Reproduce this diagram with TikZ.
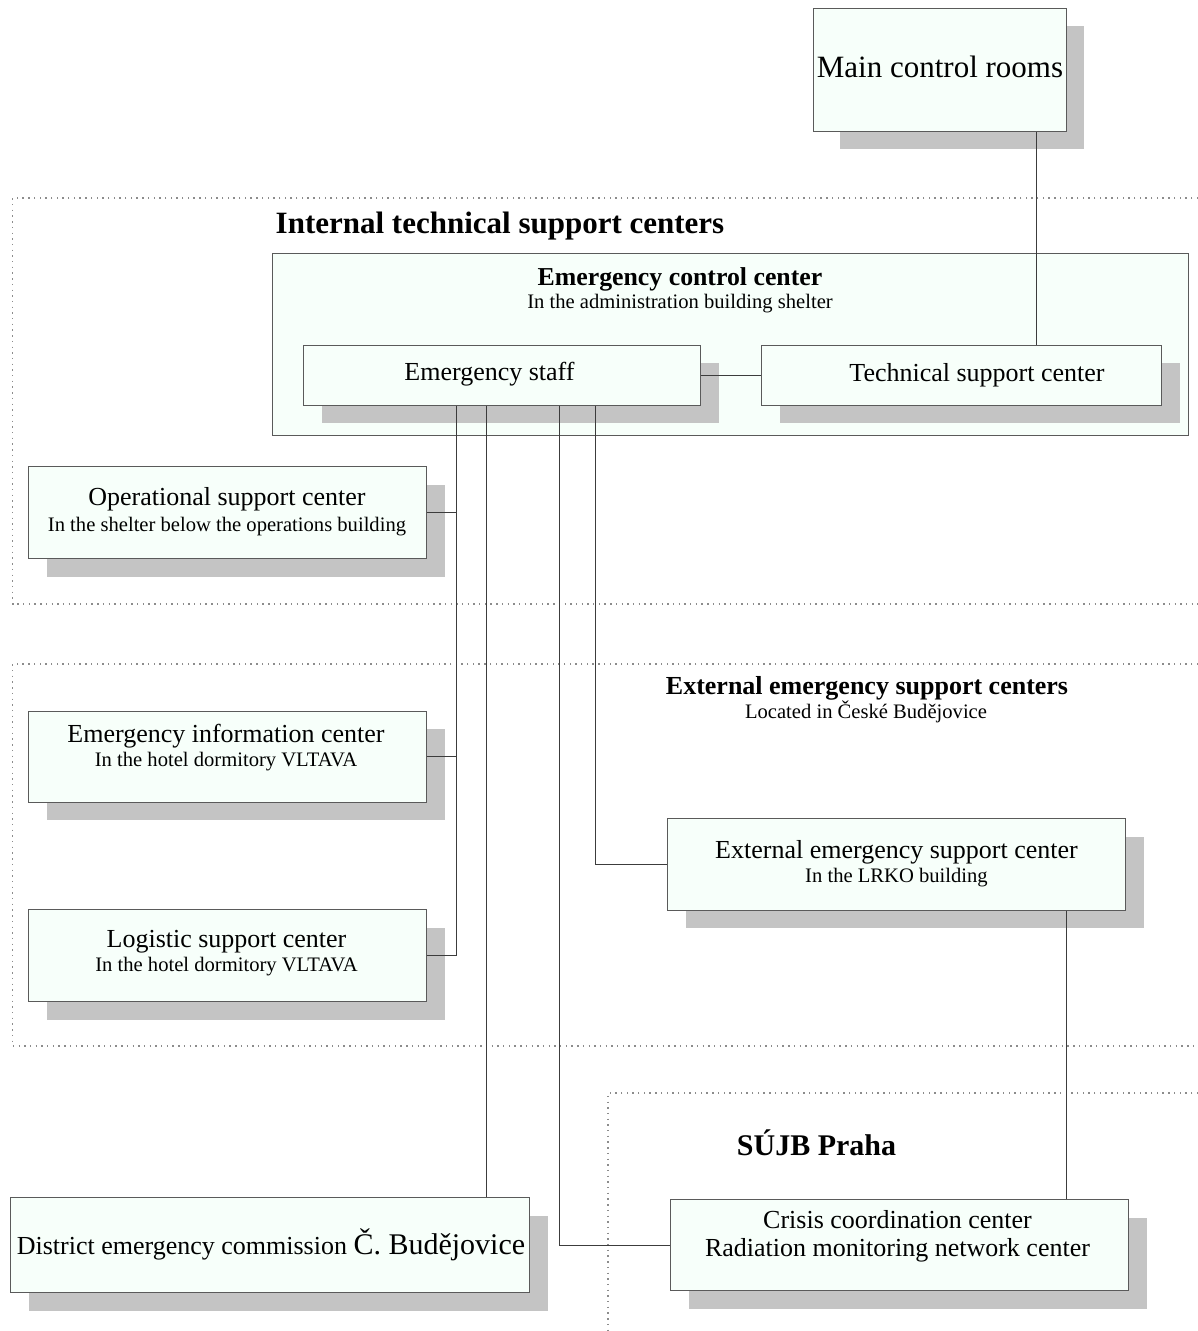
\documentclass[tikz,border=0pt]{standalone}
\usepackage{fontspec}
\setmainfont{Liberation Serif}
\usetikzlibrary{shadows}

\definecolor{boxfill}{RGB}{247,255,250}
\definecolor{shadowgray}{RGB}{196,196,196}
\definecolor{boxline}{RGB}{90,90,90}
\definecolor{wire}{RGB}{60,60,60}
\definecolor{frameline}{RGB}{140,140,140}

\newcommand\txtmain{\fontsize{26pt}{30pt}\selectfont}
\newcommand\txtsub{\fontsize{20.6pt}{24pt}\selectfont}
\newcommand\txtbig{\fontsize{31pt}{36pt}\selectfont}

\begin{document}
\begin{tikzpicture}[x=1pt,y=-1pt,
  unitbox/.style={draw=boxline, line width=1.1pt, fill=boxfill, inner sep=0pt,
    anchor=north west, minimum width=#1},
  unitshadow/.style={drop shadow={shadow xshift=18pt, shadow yshift=-18pt,
    opacity=1, fill=shadowgray, draw=none}},
  groupbox/.style={draw=boxline, line width=1.1pt, fill=boxfill, inner sep=0pt,
    anchor=north west, minimum width=#1},
  lbl/.style={anchor=base, inner sep=0pt, font=\txtmain},
  sublbl/.style={anchor=base, inner sep=0pt, font=\txtsub},
  wire/.style={draw=wire, line width=1pt},
  zone/.style={draw=frameline, line width=1.2pt, dash pattern=on 1.4pt off 4.3pt}
]
\useasboundingbox (0,0) rectangle (1198,1331);

% dotted zones
\draw[zone] (1198,198) -- (12.7,198) -- (12.7,604) -- (1198,604);
\draw[zone] (1198,664) -- (12.7,664) -- (12.7,1046) -- (1198,1046);
\draw[zone] (1198,1093) -- (608,1093) -- (608,1331);

% zone titles
\node[anchor=base, inner sep=0pt, font=\txtbig\bfseries] (t-internal) at (500,233) {Internal technical support centers};
\node[anchor=base, inner sep=0pt, font=\fontsize{26pt}{30pt}\selectfont\bfseries] (t-external) at (867,694) {External emergency support centers};
\node[sublbl] (t-external2) at (866,718) {Located in České Budějovice};
\node[anchor=base, inner sep=0pt, font=\fontsize{30pt}{34pt}\selectfont\bfseries] (t-sujb) at (816.5,1155) {SÚJB Praha};

% emergency control center group
\node[groupbox=916pt, minimum height=182pt] (ecc) at (272,253) {};
\node[anchor=base, inner sep=0pt, font=\fontsize{25.8pt}{30pt}\selectfont\bfseries] (t-ecc) at (680,285) {Emergency control center};
\node[sublbl] (t-ecc2) at (680,308) {In the administration building shelter};

% boxes (the top box has a slightly narrower shadow)
\fill[shadowgray] (840,26) rectangle (1084,149);
\node[unitbox=253pt, minimum height=123pt] (mcr) at (813,8) {};
\node[unitbox=397pt, minimum height=60pt, unitshadow] (staff) at (303,344.5) {};
\node[unitbox=400pt, minimum height=60pt, unitshadow] (tsc) at (761,344.5) {};
\node[unitbox=398pt, minimum height=92pt, unitshadow] (osc) at (28,466) {};
\node[unitbox=398pt, minimum height=91pt, unitshadow] (eic) at (28,710.5) {};
\node[unitbox=398pt, minimum height=92pt, unitshadow] (lsc) at (28,909) {};
\node[unitbox=458pt, minimum height=91.5pt, unitshadow] (eesc) at (667,818) {};
\node[unitbox=519pt, minimum height=95pt, unitshadow] (dec) at (10,1197) {};
\node[unitbox=458pt, minimum height=91pt, unitshadow] (ccc) at (670,1199) {};

% box texts
\node[anchor=base, inner sep=0pt, font=\txtbig] (t-mcr) at (940,77) {Main control rooms};
\node[lbl] (t-staff) at (489.5,380) {Emergency staff};
\node[lbl] (t-tsc) at (977,381) {Technical support center};
\node[lbl] (t-osc) at (227,505) {Operational support center};
\node[sublbl] (t-osc2) at (227,531) {In the shelter below the operations building};
\node[lbl] (t-eic) at (226,742) {Emergency information center};
\node[sublbl] (t-eic2) at (226,766) {In the hotel dormitory VLTAVA};
\node[lbl] (t-lsc) at (226.5,947) {Logistic support center};
\node[sublbl] (t-lsc2) at (226.5,971) {In the hotel dormitory VLTAVA};
\node[lbl] (t-eesc) at (896.5,858) {External emergency support center};
\node[sublbl] (t-eesc2) at (896.5,882) {In the LRKO building};
\node[lbl] (t-ccc) at (897.5,1228) {Crisis coordination center};
\node[lbl] (t-ccc2) at (897.5,1256) {Radiation monitoring network center};
\node[anchor=base, inner sep=0pt] (t-dec) at (271,1254)
  {{\txtmain District emergency commission }{\fontsize{30pt}{34pt}\selectfont Č. Budějovice}};

% wire columns
\coordinate (colA) at (456,0);
\coordinate (colB) at (486,0);
\coordinate (colC) at (559,0);
\coordinate (colD) at (595,0);
\coordinate (colM) at (1036,0);
\coordinate (colE) at (1066,0);

% connectors
\draw[wire] (mcr.south -| colM) -- (tsc.north -| colM);
\draw[wire] (staff.east) -- (tsc.west);
\draw[wire] (staff.south -| colA) |- (lsc.east);
\draw[wire] (osc.east) -- (osc.east -| colA);
\draw[wire] (eic.east) -- (eic.east -| colA);
\draw[wire] (staff.south -| colB) -- (dec.north -| colB);
\draw[wire] (staff.south -| colC) |- (ccc.west);
\draw[wire] (staff.south -| colD) |- (eesc.west);
\draw[wire] (eesc.south -| colE) -- (ccc.north -| colE);
\end{tikzpicture}
\end{document}
